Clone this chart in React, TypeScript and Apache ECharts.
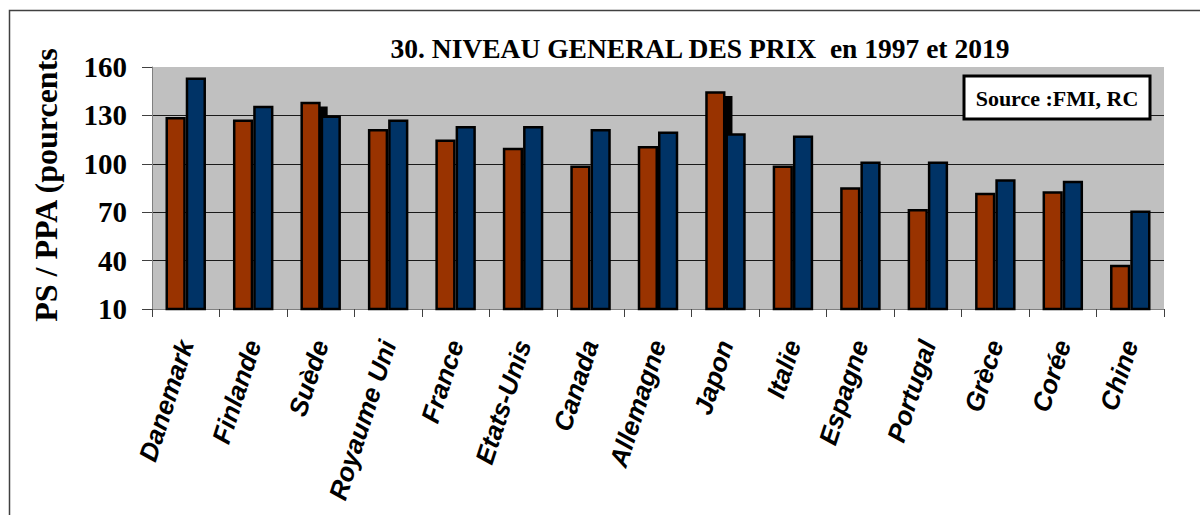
import React, { useEffect, useRef } from "react";
import * as echarts from "echarts";

const categories = [
  "Danemark", "Finlande", "Suède", "Royaume Uni", "France", "Etats-Unis", "Canada",
  "Allemagne", "Japon", "Italie", "Espagne", "Portugal", "Grèce", "Corée", "Chine",
];
const values1997 = [129, 127.5, 138.5, 121.5, 115, 110, 99, 111, 145, 99, 85.5, 72, 82, 83, 37.5];
const values2019 = [153.5, 136, 130, 127.5, 123.5, 123.5, 121.5, 120, 119, 117.5, 101.5, 101.5, 90.5, 89.5, 71];
// black artefact blocks visible behind some 2019 bars
const shadowValues: (number | null)[] = [null, null, 135.5, null, null, null, null, null, 142, null, null, null, null, null, null];

const titleText = "30. NIVEAU GENERAL DES PRIX  en 1997 et 2019";
const yAxisName = "PS / PPA (pourcents";
const sourceText = "Source :FMI, RC";
const yMin = 10;
const yMax = 160;
const yStep = 30;

export default function App() {
  const ref = useRef<HTMLDivElement>(null);
  useEffect(() => {
    if (!ref.current) return;
    const chart = echarts.init(ref.current, null, { renderer: "svg" });
    const serif = "'Liberation Serif', 'Times New Roman', serif";
    const sans = "'Liberation Sans', Arial, sans-serif";
    chart.setOption({
      animation: false,
      backgroundColor: "#ffffff",
      grid: {
        left: 152, right: 36, top: 67, bottom: 206,
        show: true, backgroundColor: "#C0C0C0", borderWidth: 0,
      },
      xAxis: {
        type: "category",
        data: categories,
        axisLine: { show: true, lineStyle: { color: "#808080", width: 1 } },
        axisTick: { show: true, length: 8, lineStyle: { color: "#404040" }, alignWithLabel: false },
        axisLabel: {
          interval: 0, rotate: 72, margin: 32,
          fontFamily: sans, fontWeight: "bold", fontStyle: "italic", fontSize: 26, color: "#000",
        },
        splitLine: { show: false },
      },
      yAxis: {
        type: "value",
        min: yMin, max: yMax, interval: yStep,
        axisLine: { show: true, lineStyle: { color: "#808080", width: 1 } },
        axisTick: { show: true, length: 10, lineStyle: { color: "#404040" } },
        axisLabel: { margin: 25, fontFamily: serif, fontWeight: "bold", fontSize: 29, color: "#000" },
        splitLine: { show: true, showMinLine: false, showMaxLine: false, lineStyle: { color: "#1a1a1a", width: 1 } },
      },
      series: [
        {
          type: "custom",
          z: 1,
          data: shadowValues.map((v, i) => [i, v]),
          renderItem: (params: any, api: any) => {
            const v = api.value(1);
            if (v == null || isNaN(v)) return null;
            const top = api.coord([api.value(0), v]);
            const bottom = api.coord([api.value(0), yMin]);
            return {
              type: "rect",
              shape: { x: top[0] - 1, y: top[1], width: 8, height: bottom[1] - top[1] },
              style: { fill: "#000" },
            };
          },
        },
        {
          name: "1997", type: "bar", z: 2, clip: true,
          data: values1997,
          barGap: "0%", barCategoryGap: "40%",
          itemStyle: { color: "#993300", borderColor: "#000000", borderWidth: 2.5 },
        },
        {
          name: "2019", type: "bar", z: 3, clip: true,
          data: values2019,
          barGap: "0%", barCategoryGap: "40%",
          itemStyle: { color: "#003366", borderColor: "#000000", borderWidth: 2.5 },
        },
      ],
      graphic: [
        {
          type: "polyline",
          shape: { points: [[9.5, 515], [9.5, 10.5], [1200, 10.5]] },
          style: { stroke: "#404040", lineWidth: 1.5, fill: "none" },
          silent: true,
        },
        {
          type: "text", x: 700, y: 48,
          style: {
            text: titleText, fontFamily: serif, fontWeight: "bold", fontSize: 27.5,
            fill: "#000", textAlign: "center", textVerticalAlign: "middle",
          },
        },
        {
          type: "text", x: 46, y: 185, rotation: Math.PI / 2,
          style: {
            text: yAxisName, fontFamily: serif, fontWeight: "bold", fontSize: 32,
            fill: "#000", textAlign: "center", textVerticalAlign: "middle",
          },
        },
        {
          type: "rect", z: 100,
          shape: { x: 964, y: 76, width: 186, height: 43 },
          style: { fill: "#fff", stroke: "#000", lineWidth: 3 },
        },
        {
          type: "text", z: 101, x: 1057, y: 98,
          style: {
            text: sourceText, fontFamily: serif, fontWeight: "bold", fontSize: 22,
            fill: "#000", textAlign: "center", textVerticalAlign: "middle",
          },
        },
      ],
    });
    return () => chart.dispose();
  }, []);
  return (
    <div
      ref={ref}
      style={{ position: "fixed", left: 0, top: 0, width: 1200, height: 515, background: "#fff" }}
    />
  );
}
